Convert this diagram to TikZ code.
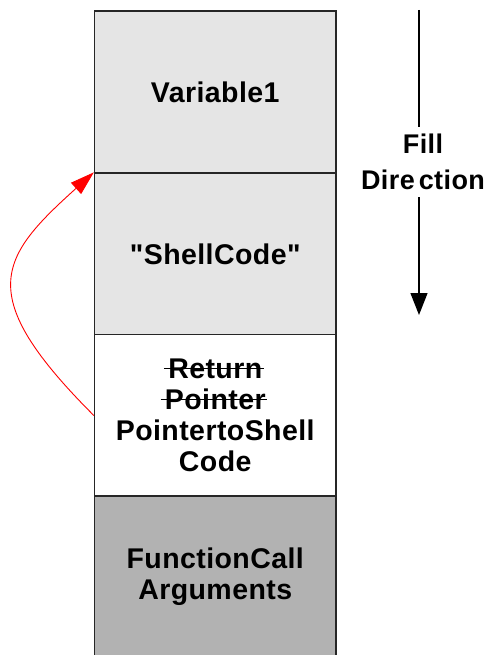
\documentclass[tikz,border=0pt]{standalone}
\usepackage{fontspec}
\setmainfont[LetterSpace=1.5,Ligatures=TeXOff]{Liberation Sans}
\usetikzlibrary{arrows.meta}
% struck-through word: a rule drawn across the text at mid height
\newsavebox\strkbox
\newcommand\strk[1]{\sbox\strkbox{#1}%
  \rlap{\hspace{-0.15em}\rule[0.33em]{\dimexpr\wd\strkbox+0.2em\relax}{1.6pt}}%
  \usebox\strkbox}
\begin{document}
\begin{tikzpicture}[x=1pt,y=-1pt,
  cell/.style={draw=black!85, line width=1.3pt, minimum width=241.5pt,
    minimum height=162pt, inner sep=0pt, align=center,
    font=\fontsize{28.5}{31}\selectfont\bfseries},
  light/.style={cell, fill=gray!20},
  plain/.style={cell, fill=white},
  dark/.style={cell, fill=gray!60},
  dirlabel/.style={align=center, inner xsep=0pt, inner ysep=7pt,
    font=\fontsize{27}{36}\selectfont\bfseries}]
\clip (0,0) rectangle (487,655);

% stack frame cells, top to bottom
\node[light] (var)   at (215.25,92)    {Variable1};
\node[light] (shell) at (215.25,254)   {"ShellCode"};
\node[plain] (ret)   at (215.25,415.5) {\strk{Return}\\\strk{Pointer}\\PointertoShell\\Code};
\node[dark]  (args)  at (215.25,577)   {FunctionCall\\Arguments};

% fill direction indicator
\coordinate (ftop) at (419,10);
\coordinate (fend) at (419,315);
\node[dirlabel] (fd) at (423,162) {Fill\\Dire\hspace{4pt}ction};
\draw[line width=1.3pt] (ftop) -- (fd.north -| ftop);
\draw[line width=1.3pt, -{Triangle[length=22pt,width=17pt]}] (fd.south -| ftop) -- (fend);

% overwritten return pointer now points at the shellcode
\draw[red, line width=0.9pt, -{Triangle[length=24pt,width=15pt]}]
  (ret.west) .. controls +(-121,-121) and +(-95,85.5) .. (shell.north west);
\end{tikzpicture}
\end{document}
